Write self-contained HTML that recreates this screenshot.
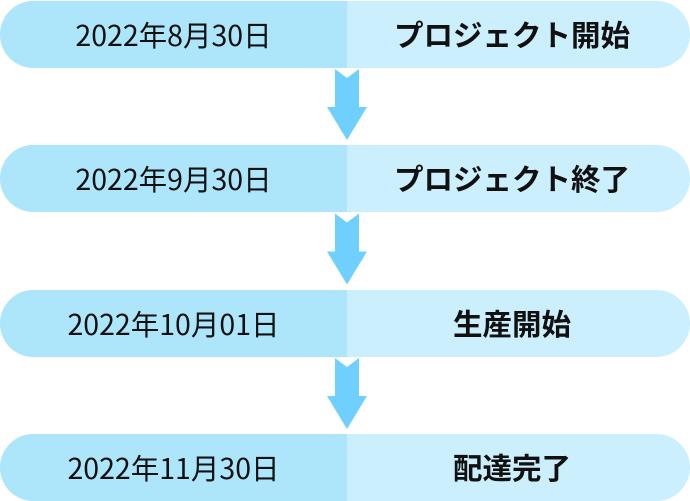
<!DOCTYPE html>
<html><head><meta charset="utf-8"><style>
body{margin:0;width:690px;height:500px;background:#fff;position:relative;overflow:hidden;font-family:"Noto Sans CJK JP","Liberation Sans",sans-serif}
.row{position:absolute;left:0;width:690px;height:67px;border-radius:34px;overflow:hidden;background:#cbeffd}
.l{position:absolute;left:0;top:0;width:347px;height:67px;background:#ade5fb;}
.t{position:absolute;top:0;line-height:67px;font-size:28.5px;color:#111;text-align:center;white-space:nowrap}
.a{left:0;width:347px}
.b{left:347px;width:330px;font-weight:bold;font-size:29.5px}
svg{position:absolute;left:0;top:0}
</style></head><body>
<div class="row" style="top:1px"><div class="l"></div><div class="t a">2022年8月30日</div><div class="t b">プロジェクト開始</div></div>
<div class="row" style="top:145px"><div class="l"></div><div class="t a">2022年9月30日</div><div class="t b">プロジェクト終了</div></div>
<div class="row" style="top:290px"><div class="l"></div><div class="t a">2022年10月01日</div><div class="t b">生産開始</div></div>
<div class="row" style="top:434px"><div class="l"></div><div class="t a">2022年11月30日</div><div class="t b">配達完了</div></div>
<svg width="690" height="500">
<g fill="#6fd0fd">
<polygon points="335,69 347,78 359,69 359,107 367,107 347,140 327,107 335,107"/>
<polygon transform="translate(0,144.5)" points="335,69 347,78 359,69 359,107 367,107 347,140 327,107 335,107"/>
<polygon transform="translate(0,289)" points="335,69 347,78 359,69 359,107 367,107 347,140 327,107 335,107"/>
</g></svg>
</body></html>
